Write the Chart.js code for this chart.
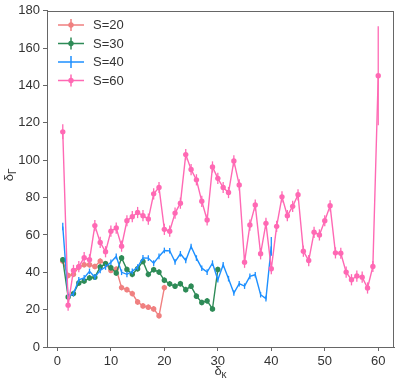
<!DOCTYPE html>
<html>
<head>
<meta charset="utf-8">
<script src="https://cdn.jsdelivr.net/npm/chart.js@4.4.1/dist/chart.umd.min.js"></script>
<style>
  html, body { margin: 0; padding: 0; background: #fff; }
  #wrap { width: 399px; height: 383px; }
</style>
</head>
<body>
<div id="wrap"><canvas id="chart" width="399" height="383"></canvas></div>
<script>
(function() {
  'use strict';

  var X_TICKS = [0, 10, 20, 30, 40, 50, 60];
  var Y_TICKS = [0, 20, 40, 60, 80, 100, 120, 140, 160, 180];

  var K = [1, 2, 3, 4, 5, 6, 7, 8, 9, 10, 11, 12, 13, 14, 15, 16, 17, 18, 19, 20,
           21, 22, 23, 24, 25, 26, 27, 28, 29, 30, 31, 32, 33, 34, 35, 36, 37, 38, 39, 40,
           41, 42, 43, 44, 45, 46, 47, 48, 49, 50, 51, 52, 53, 54, 55, 56, 57, 58, 59, 60];

  var S20 = [46, 38.3, 38.9, 42.8, 44, 44, 43.1, 46, 44.6, 41,
             41.7, 31.8, 30.7, 28.6, 24.1, 22, 21.3, 20.4, 16.7, 31.8];
  var S20_ERR = [1.5, 1.5, 1.5, 1.5, 1.5, 1.5, 1.5, 1.5, 1.5, 1.5,
                 1.5, 1.5, 1.5, 1.5, 1.5, 1.5, 1.5, 1.5, 1.5, 1.5];

  var S30 = [46.7, 26.8, 28.6, 34.3, 35.3, 37, 37.4, 42.8, 44.6, 42.4,
             39.6, 47.7, 41.5, 38.9, 41.9, 45.8, 38.9, 41.4, 40.1, 35.7,
             33.8, 32.5, 33.9, 30.7, 32.5, 27.2, 23.8, 24.7, 20.4, 41.5];
  var S30_ERR = [1.5, 1.5, 1.5, 1.5, 1.5, 1.5, 1.5, 1.5, 1.5, 1.5,
                 1.5, 1.5, 1.5, 1.5, 1.5, 1.5, 1.5, 1.5, 1.5, 1.5,
                 1.5, 1.5, 1.5, 1.5, 1.5, 1.5, 1.5, 1.5, 1.5, 1.5];

  var S40 = [64.5, 26.8, 28.6, 36, 37, 40.5, 37.4, 41, 42.8, 45.4,
             48.5, 40, 38.9, 40.5, 42.8, 47.7, 47.6, 44.9, 48.5, 51.7,
             51.5, 45.6, 49.9, 46.3, 53.8, 47.6, 42.2, 40.1, 44.9, 36,
             44, 36.6, 28.9, 33.9, 32.6, 37.8, 38.7, 28, 25.9, 53.9];
  var S40_ERR = [2, 1.5, 1.5, 1.5, 1.5, 1.5, 1.5, 1.5, 1.5, 1.5,
                 1.5, 1.5, 1.5, 1.5, 1.5, 1.5, 1.5, 1.5, 1.5, 1.5,
                 1.5, 1.5, 1.5, 1.5, 1.5, 1.5, 1.5, 1.5, 1.5, 1.5,
                 1.5, 1.5, 1.5, 1.5, 1.5, 1.5, 1.5, 1.5, 1.5, 5];

  var S60 = [115.2, 22.4, 41, 43, 47.8, 46.7, 65, 56, 51, 62,
             63.7, 54, 67.6, 69.8, 72, 70.3, 68.5, 82, 85.4, 63,
             62, 71.7, 77, 103, 95, 89.5, 78, 68, 96.4, 90.3,
             85.4, 82.7, 99.6, 86.8, 45.4, 65.3, 76, 49.9, 66.2, 41.9,
             64.6, 80.4, 70.3, 75.3, 81.5, 51.3, 46.3, 61.4, 60, 67.6,
             75.6, 50.4, 50.2, 40.1, 36, 38, 37.4, 31.6, 43.1, 145.2];
  var S60_ERR = [4, 3, 3, 3, 3, 3, 3, 3, 3, 3,
                 3, 3, 3, 3, 3, 3, 3, 3, 3, 3,
                 3, 3, 3, 3, 3, 3, 3, 3, 3, 3,
                 3, 3, 3, 3, 3, 3, 3, 3, 3, 3,
                 3, 3, 3, 3, 3, 3, 3, 3, 3, 3,
                 3, 3, 3, 3, 3, 3, 3, 3, 3, 26.5];

  var LABELS = ['S=20', 'S=30', 'S=40', 'S=60'];

  var COLORS = {
    s20: '#F08080',
    s30: '#2E8B57',
    s40: '#1E90FF',
    s60: '#FF69B4',
    axis: '#666666',
    text: '#333333'
  };
  var FONT = '"Liberation Sans", Arial, Helvetica, sans-serif';

  function points(values) {
    return values.map(function(v, i) { return { x: K[i], y: v }; });
  }

  function series(label, values, errors, color, radius, order) {
    return {
      label: label,
      data: points(values),
      errors: errors,
      borderColor: color,
      backgroundColor: color,
      borderWidth: 1.4,
      pointRadius: radius,
      pointBorderWidth: 0,
      pointBackgroundColor: color,
      tension: 0,
      order: order
    };
  }

  // vertical error bars, drawn right after each dataset so stacking follows the lines
  var errorBars = {
    id: 'errorBars',
    afterDatasetDraw: function(chart, args) {
      var ds = chart.data.datasets[args.index];
      var yScale = chart.scales.y;
      var ctx = chart.ctx;
      ctx.save();
      ctx.strokeStyle = ds.borderColor;
      ctx.lineWidth = 1.3;
      args.meta.data.forEach(function(pt, i) {
        var v = ds.data[i].y, e = ds.errors[i];
        ctx.beginPath();
        ctx.moveTo(pt.x, yScale.getPixelForValue(v - e));
        ctx.lineTo(pt.x, yScale.getPixelForValue(v + e));
        ctx.stroke();
      });
      ctx.restore();
    }
  };

  var decorations = {
    id: 'decorations',
    afterDraw: function(chart) {
      var ctx = chart.ctx;
      var a = chart.chartArea;
      ctx.save();

      // frame
      ctx.strokeStyle = COLORS.axis;
      ctx.lineWidth = 1;
      ctx.strokeRect(Math.round(a.left) + 0.5, Math.round(a.top) + 0.5,
                     Math.round(a.right - a.left) - 1, Math.round(a.bottom - a.top));

      // legend
      ctx.font = '13px ' + FONT;
      ctx.textBaseline = 'middle';
      chart.data.datasets.forEach(function(ds, i) {
        var ry = 25 + i * 18.5;
        ctx.strokeStyle = ds.borderColor;
        ctx.lineWidth = 1.5;
        ctx.beginPath();
        ctx.moveTo(58, ry); ctx.lineTo(84, ry);
        ctx.moveTo(71, ry - 6); ctx.lineTo(71, ry + 6);
        ctx.stroke();
        if (ds.pointRadius > 0) {
          ctx.fillStyle = ds.borderColor;
          ctx.beginPath();
          ctx.arc(71, ry, ds.pointRadius, 0, Math.PI * 2);
          ctx.fill();
        }
        ctx.fillStyle = COLORS.text;
        ctx.textAlign = 'left';
        ctx.fillText(ds.label, 93, ry + 0.5);
      });

      // axis titles with subscripts
      ctx.fillStyle = COLORS.text;
      ctx.textBaseline = 'alphabetic';
      var cx = (a.left + a.right) / 2;
      ctx.font = '13px ' + FONT;
      var w1 = ctx.measureText('δ').width;
      ctx.font = '10px ' + FONT;
      var w2 = ctx.measureText('κ').width;
      var x0 = cx - (w1 + w2) / 2;
      ctx.font = '13px ' + FONT;
      ctx.textAlign = 'left';
      ctx.fillText('δ', x0, 375);
      ctx.font = '10px ' + FONT;
      ctx.fillText('κ', x0 + w1, 378);

      ctx.translate(13, (a.top + a.bottom) / 2 - 4);
      ctx.rotate(-Math.PI / 2);
      ctx.font = '13px ' + FONT;
      w1 = ctx.measureText('δ').width;
      ctx.font = '10px ' + FONT;
      w2 = ctx.measureText('Γ').width;
      x0 = -(w1 + w2) / 2;
      ctx.font = '13px ' + FONT;
      ctx.fillText('δ', x0, 0);
      ctx.font = '10px ' + FONT;
      ctx.fillText('Γ', x0 + w1, 3);

      ctx.restore();
    }
  };

  var tickGrid = {
    display: true,
    drawOnChartArea: false,
    drawTicks: true,
    tickLength: 4,
    tickColor: COLORS.axis,
    tickWidth: 1
  };

  new Chart(document.getElementById('chart'), {
    type: 'line',
    data: {
      datasets: [
        series(LABELS[0], S20, S20_ERR, COLORS.s20, 2.7, 3),
        series(LABELS[1], S30, S30_ERR, COLORS.s30, 2.7, 2),
        series(LABELS[2], S40, S40_ERR, COLORS.s40, 0, 1),
        series(LABELS[3], S60, S60_ERR, COLORS.s60, 2.7, 0)
      ]
    },
    options: {
      responsive: false,
      animation: false,
      devicePixelRatio: 1,
      layout: { padding: { top: 9, right: 5, left: 0, bottom: 0 } },
      plugins: {
        legend: { display: false },
        tooltip: { enabled: false }
      },
      scales: {
        x: {
          type: 'linear',
          min: -1.95,
          max: 62.95,
          afterBuildTicks: function(s) { s.ticks = X_TICKS.map(function(v) { return { value: v }; }); },
          afterFit: function(s) { s.height = 36; },
          grid: tickGrid,
          border: { display: true, color: COLORS.axis },
          ticks: { color: COLORS.text, font: { size: 13, family: FONT }, padding: 3, maxRotation: 0 }
        },
        y: {
          type: 'linear',
          min: 0,
          max: 180,
          afterBuildTicks: function(s) { s.ticks = Y_TICKS.map(function(v) { return { value: v }; }); },
          afterFit: function(s) { s.width = 47; },
          grid: tickGrid,
          border: { display: true, color: COLORS.axis },
          ticks: { color: COLORS.text, font: { size: 13, family: FONT }, padding: 3 }
        }
      }
    },
    plugins: [errorBars, decorations]
  });
})();
</script>
</body>
</html>
